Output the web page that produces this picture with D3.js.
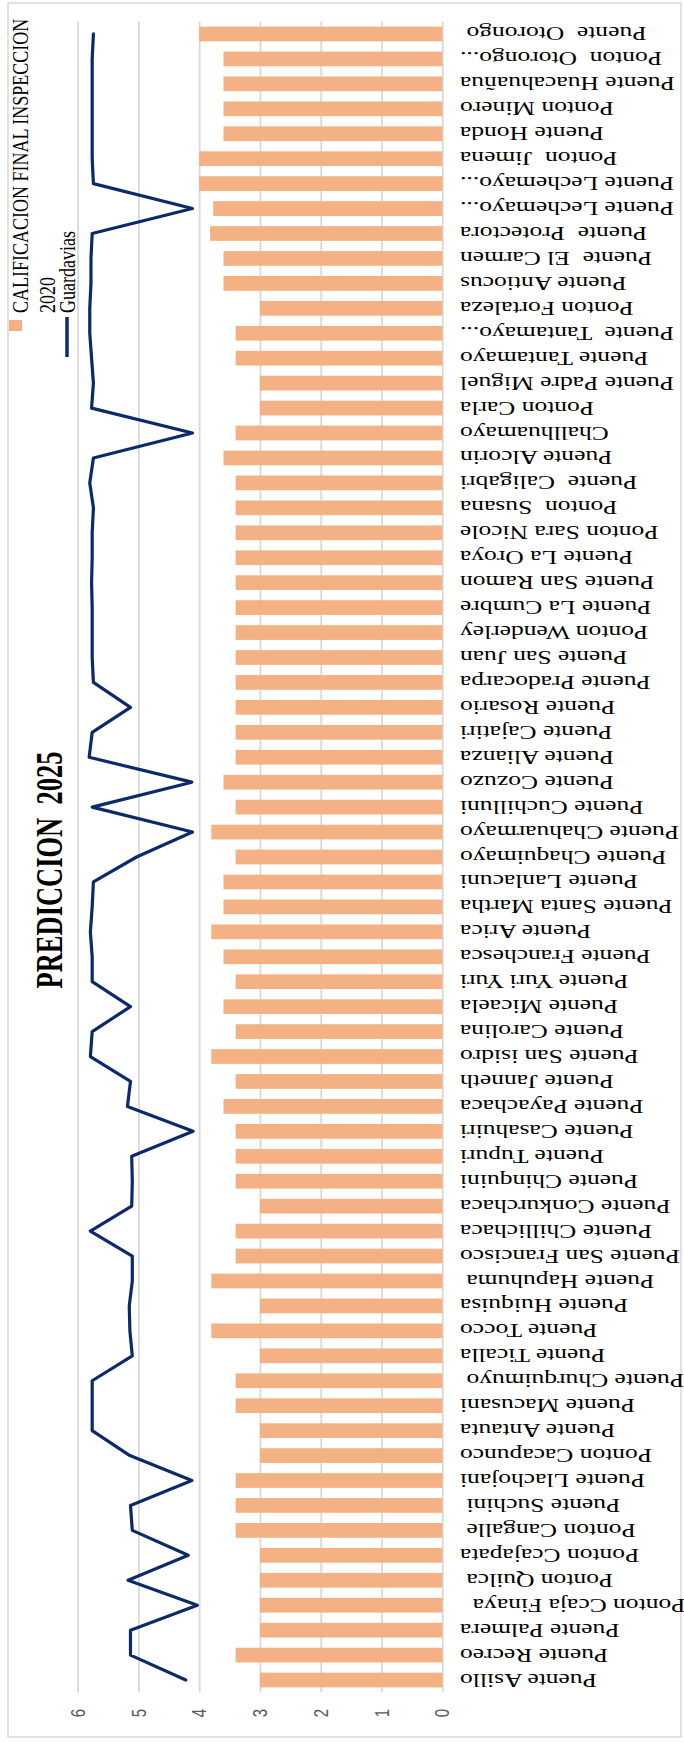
<!DOCTYPE html>
<html lang="es">
<head>
<meta charset="UTF-8">
<title>Prediccion 2025</title>
<script src="https://d3js.org/d3.v7.min.js"></script>
<style>
  body { margin: 0; background: #fff; }
  text { white-space: pre; }
</style>
</head>
<body>
<svg id="chart" width="684" height="1742"></svg>
<script>
// categorias (de izquierda a derecha en el grafico original)
var categories = [
  "Puente Asillo", "Puente Recreo", "Puente Palmera", "Ponton Ccaja Finaya  ", "Ponton Quilca ",
  "Ponton Ccajapata", "Ponton Cangalle ", "Puente Suchini ", "Puente Llachojani", "Ponton Cacapunco",
  "Puente Antauta", "Puente Macusani", "Puente Churquimuyo ", "Puente Ticalla", "Puente Tocco",
  "Puente Huiquisa", "Puente Hapuhuma ", "Puente San Francisco", "Puente Chillichaca", "Puente Conkurchaca",
  "Puente Chinquini", "Puente Tupuri", "Puente Casahuiri", "Puente Payachaca", "Puente Janneth",
  "Puente San isidro", "Puente Carolina", "Puente Micaela", "Puente Yuri Yuri", "Puente Franchesca",
  "Puente Arica", "Puente Santa Martha", "Puente Lanlacuni", "Puente Chaquimayo", "Puente Chahuarmayo",
  "Puente Cuchilluni", "Puente Cozuzo", "Puente Alianza", "Puente Cajatiri", "Puente Rosario",
  "Puente Pradocarpa", "Puente San Juan", "Ponton Wenderley", "Puente La Cumbre", "Puente San Ramon",
  "Puente La Oroya", "Ponton Sara Nicole", "Ponton  Susana", "Puente  Caligabri", "Puente Alcorin",
  "Challhuamayo", "Ponton Carla", "Puente Padre Miguel", "Puente Tantamayo", "Puente  Tantamayo...",
  "Ponton Fortaleza", "Puente Antiocus", "Puente  El Carmen", "Puente  Protectora", "Puente Lechemayo...",
  "Puente Lechemayo...", "Ponton  Jimena", "Puente Honda", "Ponton Minero", "Puente Huacahuañua",
  "Ponton  Otorongo...", "Puente  Otorongo "
];

// CALIFICACION FINAL INSPECCION 2020 (barras)
var inspeccion2020 = [
  3.0, 3.4, 3.0, 3.0, 3.0, 3.0, 3.4, 3.4, 3.4, 3.0,
  3.0, 3.4, 3.4, 3.0, 3.8, 3.0, 3.8, 3.4, 3.4, 3.0,
  3.4, 3.4, 3.4, 3.6, 3.4, 3.8, 3.4, 3.6, 3.4, 3.6,
  3.8, 3.6, 3.6, 3.4, 3.8, 3.4, 3.6, 3.4, 3.4, 3.4,
  3.4, 3.4, 3.4, 3.4, 3.4, 3.4, 3.4, 3.4, 3.4, 3.6,
  3.4, 3.0, 3.0, 3.4, 3.4, 3.0, 3.6, 3.6, 3.82, 3.77,
  4.0, 4.0, 3.6, 3.6, 3.6, 3.6, 4.0
];

// Guardavias (linea)
var guardavias = [
  4.22, 5.13, 5.13, 4.03, 5.17, 4.18, 5.10, 5.13, 4.12, 5.14,
  5.76, 5.76, 5.76, 5.10, 5.14, 5.15, 5.10, 5.10, 5.79, 5.11,
  5.10, 5.11, 4.10, 5.18, 5.13, 5.79, 5.76, 5.13, 5.76, 5.76,
  5.79, 5.76, 5.74, 5.03, 4.11, 5.76, 4.12, 5.81, 5.76, 5.13,
  5.74, 5.76, 5.76, 5.76, 5.77, 5.76, 5.76, 5.74, 5.80, 5.74,
  4.11, 5.77, 5.74, 5.77, 5.80, 5.80, 5.78, 5.78, 5.76, 4.11,
  5.74, 5.76, 5.76, 5.76, 5.76, 5.76, 5.74
];

var yTicks = [0, 1, 2, 3, 4, 5, 6];
var title = "PREDICCION  2025";
var legendNames = ["CALIFICACION FINAL INSPECCION", "2020", "Guardavias"];

var barColor = "#f4b183";
var lineColor = "#0c2a6a";
var gridColor = "#d9d9d9";
var stretch = 1.38; // el grafico original esta estirado en un eje

var svg = d3.select("#chart");
var W = 1742, H = 684;

svg.append("rect").attr("width", 684).attr("height", 1742).attr("fill", "#fff");

// todo el grafico se dibuja como columnas y luego se gira
var g = svg.append("g").attr("transform", "translate(0," + W + ") rotate(-90)");

g.append("rect")
  .attr("x", 5).attr("y", 8)
  .attr("width", 1734).attr("height", 673)
  .attr("fill", "none").attr("stroke", gridColor).attr("stroke-width", 1.5);

var x = d3.scaleBand()
  .domain(d3.range(categories.length))
  .range([49.5, 1720.5])
  .paddingInner(0.41)
  .paddingOuter(0.205);

var y = d3.scaleLinear().domain([0, 6]).range([442.3, 77.6]);

// lineas de cuadricula
g.append("g")
  .attr("transform", "translate(49.5,0)")
  .call(d3.axisLeft(y).tickValues(yTicks).tickSize(-(1720.5 - 49.5)).tickFormat(""))
  .call(function (s) { s.select(".domain").remove(); })
  .selectAll("line")
  .attr("stroke", gridColor).attr("stroke-width", 1.8);

// etiquetas del eje de valores
g.append("g")
  .attr("transform", "translate(49.5,0)")
  .call(d3.axisLeft(y).tickValues(yTicks).tickSize(0).tickPadding(16.5).tickFormat(d3.format("d")))
  .call(function (s) { s.select(".domain").remove(); })
  .selectAll("text")
  .attr("font-family", "'Liberation Sans', Arial, sans-serif")
  .attr("font-size", "15px")
  .attr("fill", "#595959")
  .attr("transform", "scale(1," + stretch + ")");

// barras
g.append("g")
  .selectAll("rect")
  .data(inspeccion2020)
  .enter()
  .append("rect")
  .attr("x", function (d, i) { return x(i); })
  .attr("y", function (d) { return y(d); })
  .attr("width", x.bandwidth())
  .attr("height", function (d) { return y(0) - y(d); })
  .attr("fill", barColor);

// linea Guardavias
var line = d3.line()
  .x(function (d, i) { return x(i) + x.bandwidth() / 2; })
  .y(function (d) { return y(d); });

g.append("path")
  .datum(guardavias)
  .attr("d", line)
  .attr("fill", "none")
  .attr("stroke", lineColor)
  .attr("stroke-width", 3.2)
  .attr("stroke-linejoin", "round")
  .attr("stroke-linecap", "round");

// etiquetas de categorias
g.append("g")
  .attr("transform", "translate(0," + y(0) + ")")
  .call(d3.axisBottom(x).tickSize(0).tickFormat(function (i) { return categories[i]; }))
  .call(function (s) { s.select(".domain").remove(); })
  .selectAll("text")
  .attr("x", 0).attr("y", 0).attr("dy", "0.35em")
  .attr("text-anchor", "end")
  .attr("font-family", "'Liberation Serif', 'Times New Roman', serif")
  .attr("font-size", "18.5px")
  .attr("fill", "#000")
  .attr("transform", "translate(0,17.7) scale(1," + stretch + ") rotate(-90)");

// titulo
g.append("text")
  .attr("transform", "translate(872,62) scale(1,1.42)")
  .attr("text-anchor", "middle")
  .attr("font-family", "'Liberation Serif', 'Times New Roman', serif")
  .attr("font-weight", "bold")
  .attr("font-size", "26.5px")
  .text(title);

// leyenda
var lg = g.append("g").attr("font-family", "'Liberation Serif', 'Times New Roman', serif")
  .attr("font-size", "18px").attr("fill", "#000");

lg.append("rect")
  .attr("x", 1411).attr("y", 9)
  .attr("width", 11).attr("height", 13)
  .attr("fill", barColor);

lg.append("line")
  .attr("x1", 1385).attr("x2", 1425)
  .attr("y1", 67).attr("y2", 67)
  .attr("stroke", lineColor).attr("stroke-width", 3.5);

var legendY = [28, 55, 75];
legendNames.forEach(function (name, i) {
  lg.append("text")
    .attr("transform", "translate(1429," + legendY[i] + ") scale(1,1.25)")
    .text(name);
});
</script>
</body>
</html>
